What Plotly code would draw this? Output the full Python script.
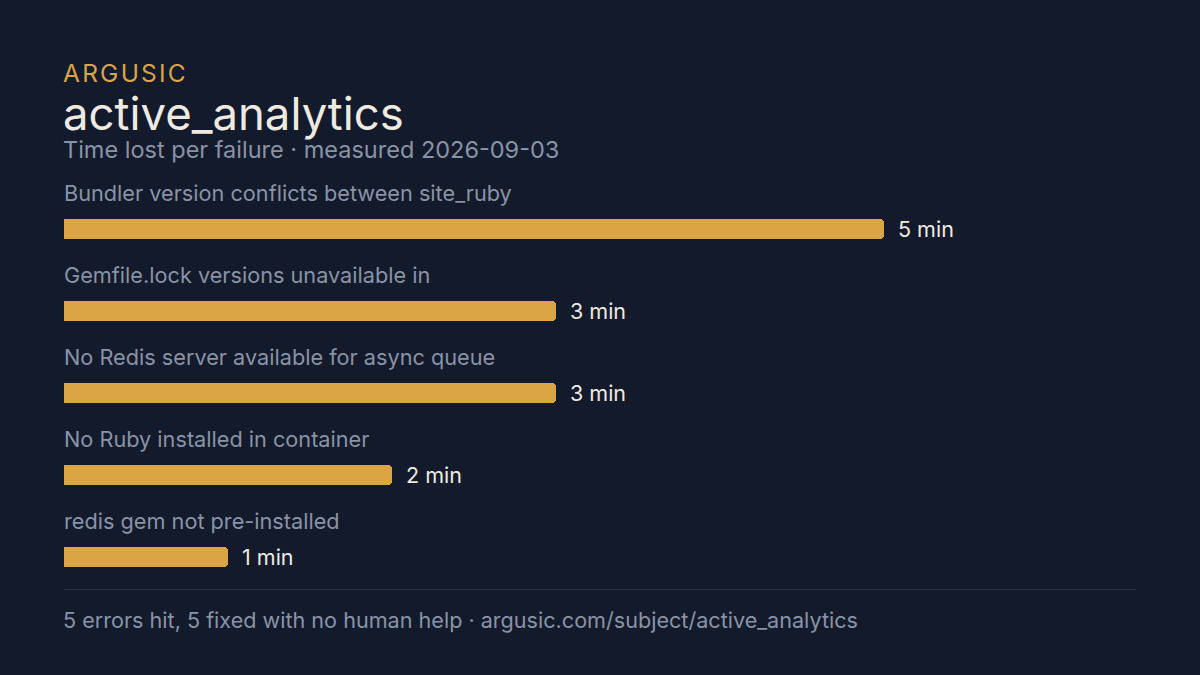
import plotly.graph_objects as go

brand = "ARGUSIC"
title = "active_analytics"
subtitle = "Time lost per failure · measured 2026-09-03"
footer = "5 errors hit, 5 fixed with no human help · argusic.com/subject/active_analytics"

categories = [
    "Bundler version conflicts between site_ruby",
    "Gemfile.lock versions unavailable in",
    "No Redis server available for async queue",
    "No Ruby installed in container",
    "redis gem not pre-installed",
]
minutes = [5, 3, 3, 2, 1]
value_labels = ["5 min", "3 min", "3 min", "2 min", "1 min"]

BG = "#131a2b"
GOLD = "#dba544"
GRAY = "#8a93a6"
CREAM = "#eeeae0"
FONT = "Inter"

W, H = 1200, 675
L, R, T, B = 64, 64, 160, 100
PW, PH = W - L - R, H - T - B

def px(x):
    return (x - L) / PW

def py(y):
    return 1 - (y - T) / PH

y0_px, step = 228.5, 82.0
y_top = (T - y0_px) / step
y_bot = (T + PH - y0_px) / step

fig = go.Figure()
fig.add_trace(go.Bar(
    x=minutes,
    y=categories,
    orientation="h",
    marker=dict(color=GOLD, cornerradius=4, line=dict(width=0)),
    width=20 / step,
    hoverinfo="skip",
))

ann = []
for c, v, lab in zip(categories, minutes, value_labels):
    ann.append(dict(x=0, y=c, xref="x", yref="y", text=c, showarrow=False,
                    xanchor="left", yanchor="middle", yshift=35.5, xshift=-1, borderpad=0,
                    font=dict(family=FONT, size=21.7, color=GRAY)))
    ann.append(dict(x=v, y=c, xref="x", yref="y", text=lab, showarrow=False,
                    xanchor="left", yanchor="middle", xshift=13, borderpad=0,
                    font=dict(family=FONT, size=21.5, color=CREAM)))

spaced_brand = "\u200a".join(brand)
ann.append(dict(x=px(62), y=py(73), xref="paper", yref="paper", text=spaced_brand, showarrow=False,
                xanchor="left", yanchor="middle", borderpad=0,
                font=dict(family=FONT, size=24.5, color=GOLD)))
ann.append(dict(x=px(62), y=py(114), xref="paper", yref="paper", text=title, showarrow=False,
                xanchor="left", yanchor="middle", borderpad=0,
                font=dict(family=FONT, size=45.5, color=CREAM)))
ann.append(dict(x=px(62), y=py(149), xref="paper", yref="paper", text=subtitle, showarrow=False,
                xanchor="left", yanchor="middle", borderpad=0,
                font=dict(family=FONT, size=23.5, color=GRAY)))
ann.append(dict(x=px(62), y=py(620), xref="paper", yref="paper", text=footer, showarrow=False,
                xanchor="left", yanchor="middle", borderpad=0,
                font=dict(family=FONT, size=21.6, color=GRAY)))

fig.update_layout(
    width=W, height=H,
    margin=dict(l=L, r=R, t=T, b=B, pad=0),
    paper_bgcolor=BG, plot_bgcolor=BG,
    showlegend=False,
    bargap=0,
    xaxis=dict(range=[0, 5 * PW / 820], visible=False, fixedrange=True),
    yaxis=dict(categoryorder="array", categoryarray=categories,
               range=[y_bot, y_top], visible=False, fixedrange=True),
    annotations=ann,
    shapes=[dict(type="line", xref="paper", yref="paper", x0=0, x1=1,
                 y0=py(589.5), y1=py(589.5), line=dict(color="#2a3344", width=1))],
)

fig.write_html(
    "out.html",
    config={"displayModeBar": False},
    post_script="document.body.style.margin='0';document.body.style.background='" + BG + "';",
)
